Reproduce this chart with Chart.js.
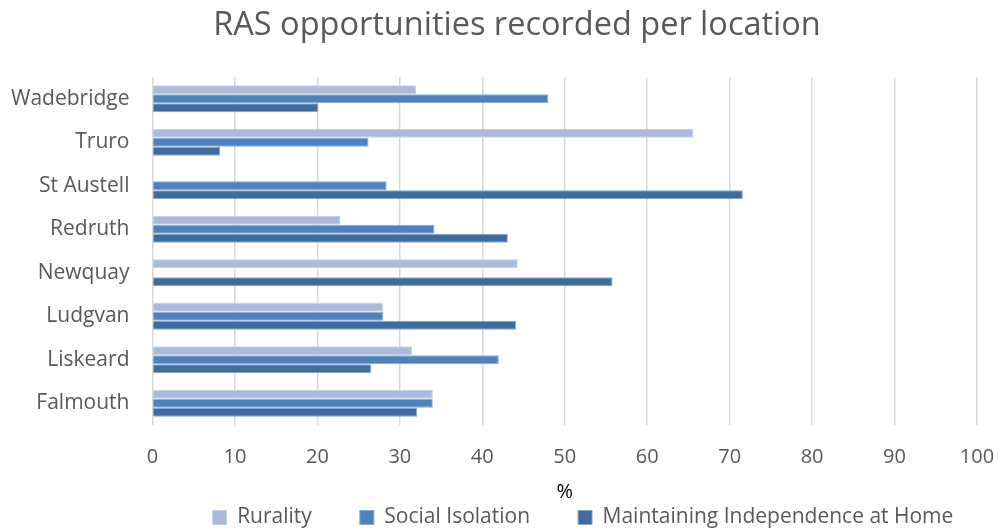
<!DOCTYPE html>
<html>
<head>
<meta charset="utf-8">
<script src="https://cdn.jsdelivr.net/npm/chart.js@4"></script>
<style>
  html, body { margin: 0; padding: 0; background: #fff; }
</style>
</head>
<body>
<canvas id="myChart" width="1000" height="531"></canvas>
<script>
var locations = ['Wadebridge', 'Truro', 'St Austell', 'Redruth', 'Newquay', 'Ludgvan', 'Liskeard', 'Falmouth'];
var rurality = [32, 65.6, 0, 22.8, 44.3, 28, 31.5, 34];
var socialIsolation = [48, 26.2, 28.4, 34.2, 0, 28, 42, 34];
var independence = [20.1, 8.2, 71.6, 43.1, 55.8, 44.1, 26.5, 32.1];
var xTicks = [0, 10, 20, 30, 40, 50, 60, 70, 80, 90, 100];

var fontFamily = "'Open Sans', 'Liberation Sans', sans-serif";
var textColor = '#595959';

// legend: wide gaps between items but a short box at the bottom,
// title and legend nudged to where Excel put them
var legendSpacing = {
    id: 'legendSpacing',
    beforeLayout: function (chart) {
        var legend = chart.legend;
        if (!legend || legend._spaced) {
            return;
        }
        var fit = legend.fit;
        legend.fit = function () {
            fit.call(this);
            this.height = 27;
        };
        legend._spaced = true;
    },
    afterLayout: function (chart) {
        var legend = chart.legend;
        legend.top -= legend.options.labels.padding - 3;
        legend.left += 89;
        legend.right += 89;
        chart.titleBlock.left += 23;
        chart.titleBlock.right += 23;
    }
};

var ctx = document.getElementById('myChart');
var myChart = new Chart(ctx, {
    type: 'bar',
    data: {
        labels: locations,
        datasets: [{
                label: 'Rurality',
                data: rurality,
                backgroundColor: '#abbad8',
                borderColor: '#c6d1e7',
                borderWidth: 1
            }, {
                label: 'Social Isolation',
                data: socialIsolation,
                backgroundColor: '#4f81bd',
                borderColor: '#8aaad4',
                borderWidth: 1
            }, {
                label: 'Maintaining Independence at Home',
                data: independence,
                backgroundColor: '#3f6b9e',
                borderColor: '#8ba5c6',
                borderWidth: 1
            }
        ]
    },
    options: {
        indexAxis: 'y',
        responsive: false,
        animation: false,
        devicePixelRatio: 1,
        layout: {padding: {left: -12, right: 0, top: 4, bottom: 0}},
        datasets: {bar: {categoryPercentage: 0.615, barPercentage: 1.0}},
        scales: {
            x: {
                min: 0,
                max: 100,
                afterBuildTicks: function (axis) {
                    axis.ticks = xTicks.map(function (v) { return {value: v}; });
                },
                afterFit: function (axis) {
                    axis.paddingRight = 23;
                },
                grid: {color: '#d9d9d9', lineWidth: 1.5, drawTicks: false},
                border: {display: false},
                ticks: {color: textColor, font: {family: fontFamily, size: 20}, padding: 20, maxRotation: 0},
                title: {display: true, text: '%', color: '#000', font: {family: fontFamily, size: 20}, padding: {top: -9, bottom: 0}}
            },
            y: {
                grid: {display: false, drawTicks: false},
                border: {display: false},
                ticks: {color: textColor, font: {family: fontFamily, size: 21}, padding: 23}
            }
        },
        plugins: {
            title: {
                display: true,
                text: 'RAS opportunities recorded per location',
                color: textColor,
                font: {family: fontFamily, size: 32.5, weight: 'normal'},
                padding: {top: 2, bottom: 32}
            },
            legend: {
                position: 'bottom',
                labels: {
                    color: textColor,
                    font: {family: fontFamily, size: 21},
                    boxWidth: 14,
                    boxHeight: 14,
                    padding: 48
                }
            },
            tooltip: {enabled: false}
        }
    },
    plugins: [legendSpacing]
});
</script>
</body>
</html>
